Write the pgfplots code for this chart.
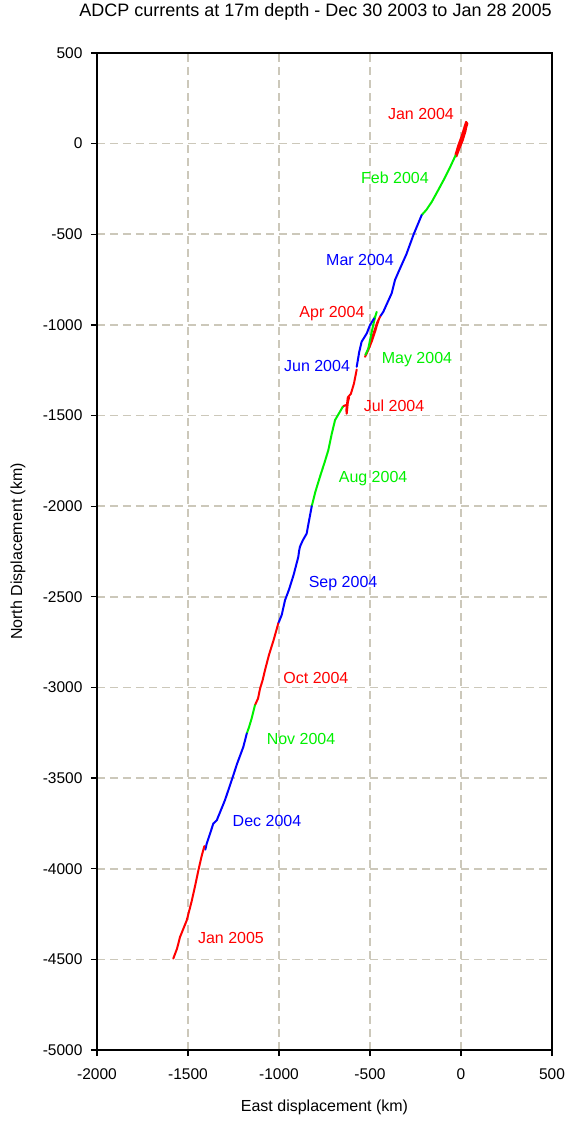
\documentclass[border=0pt]{standalone}
\usepackage{fontspec}
\setmainfont{Liberation Sans}
\usepackage{pgfplots}
\pgfplotsset{compat=1.18}

\definecolor{gridc}{RGB}{204,200,186}
\definecolor{mred}{RGB}{255,0,0}
\definecolor{mgreen}{RGB}{0,240,0}
\definecolor{mblue}{RGB}{0,0,255}

\begin{document}
\begin{tikzpicture}
\begin{axis}[
    name=ax,
    scale only axis,
    width=455pt, height=997pt,
    xmin=-2000, xmax=500, ymin=-5000, ymax=500,
    xtick={-2000,-1500,...,500},
    ytick={-5000,-4500,...,500},
    grid=major,
    grid style={gridc, line width=1.6pt, dash pattern=on 8pt off 5pt},
    axis line style={line width=1.2pt},
    tick align=outside, tick pos=left,
    major tick length=6pt,
    tick style={black, line width=1.2pt},
    /pgf/number format/assume math mode=true,
    /pgf/number format/1000 sep={},
    ticklabel style={font=\fontsize{15.5}{18}\selectfont},
    xticklabel style={yshift=-9pt},
    yticklabel style={xshift=-5pt},
    title={ADCP currents at 17m depth - Dec 30 2003 to Jan 28 2005},
    title style={font=\fontsize{18}{21}\selectfont, at={(axis description cs:0.5,1)}, anchor=center, yshift=35pt, xshift=-9pt},
    xlabel={East displacement (km)},
    xlabel style={font=\fontsize{16}{19}\selectfont, at={(axis description cs:0.5,0)}, anchor=center, yshift=-57pt},
    ylabel={North Displacement (km)},
    ylabel style={font=\fontsize{16}{19}\selectfont, at={(axis description cs:0,0.5)}, anchor=center, yshift=79pt},
    every axis plot/.append style={line width=2pt, line join=round, line cap=round},
]
% Jan 2004
\addplot[mred] coordinates {(0,0) (20,60) (35,110) (28,120) (20,95) (5,45) (-15,-10) (-30,-60) (-25,-70) (-10,-30) (10,20) (25,70) (30,100) (20,80) (0,20) (-20,-40) (-30,-65)};
% Feb 2004
\addplot[mgreen] coordinates {(-30,-65) (-60,-130) (-95,-200) (-125,-256) (-160,-320) (-190,-365) (-216,-394)};
% Mar 2004
\addplot[mblue] coordinates {(-216,-394) (-260,-500) (-300,-610) (-340,-700) (-363,-753) (-381,-826) (-410,-890) (-427,-928) (-445,-955)};
% Apr 2004
\addplot[mred] coordinates {(-445,-955) (-455,-975) (-470,-1030) (-490,-1090) (-510,-1140) (-527,-1176) (-515,-1150) (-495,-1090) (-475,-1030) (-460,-985) (-450,-965) (-465,-1010) (-490,-1080) (-515,-1150) (-525,-1165)};
% May 2004
\addplot[mgreen] coordinates {(-525,-1165) (-509,-1130) (-495,-1060) (-480,-990) (-470,-950) (-463,-928) (-470,-950) (-478,-965)};
% Jun 2004
\addplot[mblue] coordinates {(-478,-965) (-500,-1001) (-518,-1047) (-546,-1093) (-559,-1148) (-573,-1231)};
% Jul 2004
\addplot[mred] coordinates {(-573,-1246) (-588,-1323) (-605,-1380) (-622,-1400) (-630,-1470) (-628,-1490) (-620,-1410) (-615,-1400) (-625,-1440) (-640,-1445) (-650,-1452)};
% Aug 2004
\addplot[mgreen] coordinates {(-650,-1452) (-660,-1470) (-692,-1525) (-710,-1600) (-729,-1691) (-750,-1760) (-775,-1838) (-800,-1920) (-820,-2000)};
% Sep 2004
\addplot[mblue] coordinates {(-820,-2000) (-835,-2080) (-848,-2151) (-870,-2190) (-885,-2224) (-890,-2250) (-894,-2280) (-920,-2380) (-945,-2460) (-967,-2519) (-985,-2600) (-1004,-2647)};
% Oct 2004
\addplot[mred] coordinates {(-1004,-2647) (-1030,-2740) (-1055,-2820) (-1077,-2905) (-1090,-2960) (-1104,-3006) (-1115,-3060) (-1132,-3098)};
% Nov 2004
\addplot[mgreen] coordinates {(-1132,-3098) (-1150,-3170) (-1165,-3220) (-1177,-3254)};
% Dec 2004
\addplot[mblue] coordinates {(-1177,-3254) (-1196,-3328) (-1230,-3420) (-1260,-3512) (-1297,-3622) (-1342,-3733) (-1361,-3751) (-1380,-3810) (-1397,-3861) (-1405,-3895)};
% Jan 2005
\addplot[mred] coordinates {(-1410,-3875) (-1425,-3930) (-1443,-4009) (-1460,-4090) (-1480,-4180) (-1507,-4285) (-1525,-4330) (-1544,-4377) (-1560,-4440) (-1581,-4496)};

\begin{scope}[every node/.style={font=\fontsize{16}{19}\selectfont, anchor=center}]
\node[text=mred]   at (axis cs:-220,163)   {Jan 2004};
\node[text=mgreen] at (axis cs:-363,-190)  {Feb 2004};
\node[text=mblue]  at (axis cs:-555,-642)  {Mar 2004};
\node[text=mred]   at (axis cs:-709,-940)  {Apr 2004};
\node[text=mgreen] at (axis cs:-242,-1189) {May 2004};
\node[text=mblue]  at (axis cs:-791,-1227) {Jun 2004};
\node[text=mred]   at (axis cs:-368,-1448) {Jul 2004};
\node[text=mgreen] at (axis cs:-483,-1845) {Aug 2004};
\node[text=mblue]  at (axis cs:-648,-2425) {Sep 2004};
\node[text=mred]   at (axis cs:-797,-2949) {Oct 2004};
\node[text=mgreen] at (axis cs:-879,-3286) {Nov 2004};
\node[text=mblue]  at (axis cs:-1066,-3738) {Dec 2004};
\node[text=mred]   at (axis cs:-1264,-4384) {Jan 2005};
\end{scope}
\end{axis}
\pgfresetboundingbox
\path[use as bounding box] ([shift={(-97pt,-72pt)}]ax.south west) rectangle ([shift={(16pt,53pt)}]ax.north east);
\end{tikzpicture}
\end{document}
